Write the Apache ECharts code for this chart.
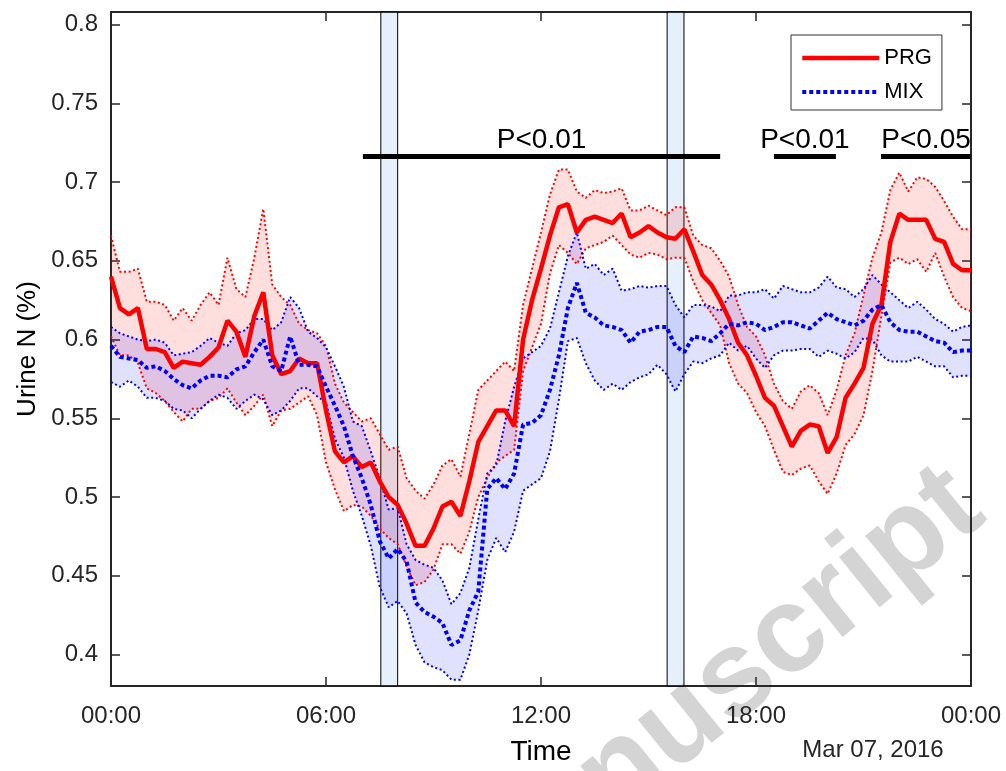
<!DOCTYPE html>
<html>
<head>
<meta charset="utf-8">
<script src="https://cdn.jsdelivr.net/npm/echarts@6/dist/echarts.min.js"></script>
<style>
html,body{margin:0;padding:0;background:#fff}
#chart{width:1006px;height:771px}
</style>
</head>
<body>
<div id="chart"></div>
<script>
// sampled every 15 min, 00:00 -> 24:00 (hours)
var timeStep = 0.25;

var prgMean = [0.640,0.620,0.616,0.620,0.594,0.594,0.592,0.582,0.586,0.585,0.584,0.589,0.595,0.612,0.605,0.589,0.615,0.630,0.590,0.578,0.580,0.588,0.585,0.585,
  0.555,0.529,0.522,0.526,0.519,0.522,0.510,0.500,0.495,0.483,0.469,0.469,0.480,0.494,0.497,0.488,0.510,0.535,0.545,0.555,0.555,0.545,0.600,0.625,
  0.645,0.666,0.684,0.686,0.668,0.676,0.678,0.676,0.674,0.680,0.665,0.668,0.672,0.668,0.665,0.664,0.670,0.656,0.641,0.635,0.625,0.613,0.598,0.590,
  0.577,0.563,0.558,0.545,0.532,0.542,0.546,0.545,0.528,0.538,0.563,0.572,0.582,0.610,0.622,0.662,0.680,0.676,0.676,0.676,0.664,0.662,0.648,0.644,
  0.644];
var prgUpper = [0.666,0.643,0.643,0.645,0.624,0.624,0.622,0.612,0.620,0.612,0.622,0.630,0.622,0.652,0.632,0.627,0.652,0.683,0.635,0.627,0.622,0.610,0.606,0.604,
  0.596,0.572,0.560,0.554,0.548,0.550,0.540,0.530,0.532,0.512,0.504,0.499,0.508,0.520,0.524,0.513,0.540,0.568,0.574,0.580,0.586,0.580,0.622,0.645,
  0.668,0.692,0.708,0.708,0.694,0.690,0.695,0.693,0.694,0.696,0.682,0.682,0.685,0.682,0.679,0.684,0.684,0.666,0.660,0.658,0.650,0.640,0.622,0.608,
  0.602,0.590,0.572,0.561,0.556,0.567,0.571,0.566,0.552,0.568,0.590,0.604,0.628,0.652,0.668,0.695,0.706,0.694,0.703,0.702,0.697,0.688,0.678,0.670,
  0.670];
var prgLower = [0.602,0.590,0.590,0.585,0.569,0.566,0.561,0.554,0.548,0.556,0.556,0.561,0.563,0.569,0.560,0.552,0.558,0.565,0.545,0.555,0.556,0.560,0.564,0.552,
  0.522,0.505,0.491,0.495,0.494,0.488,0.480,0.474,0.470,0.456,0.444,0.446,0.454,0.470,0.470,0.464,0.478,0.500,0.512,0.522,0.526,0.530,0.580,0.595,
  0.610,0.642,0.660,0.655,0.648,0.658,0.660,0.662,0.666,0.660,0.654,0.652,0.655,0.654,0.651,0.652,0.652,0.637,0.625,0.617,0.609,0.585,0.572,0.566,
  0.554,0.545,0.530,0.516,0.514,0.518,0.520,0.510,0.502,0.515,0.533,0.540,0.552,0.580,0.615,0.649,0.652,0.648,0.651,0.643,0.655,0.640,0.627,0.620,
  0.618];

var mixMean = [0.596,0.589,0.588,0.587,0.582,0.583,0.580,0.575,0.571,0.569,0.574,0.577,0.577,0.576,0.581,0.583,0.592,0.600,0.583,0.580,0.602,0.584,0.584,0.583,
  0.570,0.558,0.545,0.526,0.512,0.495,0.472,0.461,0.467,0.459,0.433,0.427,0.424,0.420,0.406,0.409,0.428,0.440,0.505,0.512,0.505,0.515,0.546,0.547,
  0.552,0.568,0.590,0.620,0.636,0.617,0.614,0.609,0.608,0.606,0.598,0.605,0.606,0.608,0.608,0.596,0.592,0.602,0.601,0.599,0.604,0.610,0.609,0.611,
  0.610,0.606,0.608,0.611,0.611,0.609,0.607,0.612,0.617,0.613,0.611,0.609,0.612,0.619,0.622,0.611,0.606,0.605,0.605,0.602,0.599,0.598,0.592,0.593,
  0.593];
var mixUpper = [0.608,0.604,0.602,0.600,0.599,0.600,0.598,0.590,0.591,0.592,0.596,0.601,0.598,0.596,0.604,0.606,0.613,0.613,0.606,0.611,0.627,0.620,0.605,0.601,
  0.595,0.583,0.570,0.548,0.545,0.529,0.512,0.492,0.493,0.470,0.460,0.457,0.455,0.447,0.432,0.439,0.455,0.486,0.515,0.520,0.548,0.570,0.588,0.592,
  0.596,0.607,0.630,0.653,0.668,0.645,0.648,0.641,0.645,0.631,0.632,0.634,0.633,0.634,0.634,0.622,0.614,0.622,0.622,0.621,0.618,0.628,0.628,0.630,
  0.630,0.632,0.626,0.634,0.632,0.630,0.630,0.633,0.640,0.633,0.632,0.627,0.632,0.641,0.635,0.630,0.625,0.620,0.624,0.619,0.613,0.610,0.605,0.608,
  0.609];
var mixLower = [0.573,0.570,0.574,0.570,0.563,0.563,0.561,0.556,0.555,0.550,0.556,0.561,0.565,0.563,0.556,0.561,0.565,0.562,0.552,0.555,0.561,0.569,0.569,0.564,
  0.560,0.537,0.525,0.504,0.488,0.469,0.443,0.430,0.434,0.426,0.406,0.395,0.392,0.390,0.384,0.384,0.400,0.428,0.460,0.474,0.465,0.478,0.504,0.508,
  0.512,0.529,0.562,0.599,0.601,0.585,0.574,0.568,0.572,0.568,0.573,0.576,0.578,0.584,0.578,0.567,0.578,0.586,0.585,0.588,0.590,0.598,0.593,0.596,
  0.588,0.582,0.590,0.593,0.593,0.594,0.594,0.589,0.593,0.591,0.588,0.592,0.601,0.600,0.590,0.586,0.586,0.586,0.589,0.586,0.583,0.583,0.576,0.577,
  0.577];

var yTicks = [0.4,0.45,0.5,0.55,0.6,0.65,0.7,0.75,0.8];
// shaded sampling windows (hours)
var windows = [[7.53,8.0],[15.52,15.99]];
// significance bars: [start h, end h, text]
var sigBars = [[7.03,17.0,'P<0.01'],[18.5,20.23,'P<0.01'],[21.49,24,'P<0.05']];
var sigLevel = 0.7165;

function pairs(arr){
  var out = [];
  for (var i=0;i<arr.length;i++) out.push([i*timeStep, arr[i]]);
  return out;
}
function hhmm(v){
  var h = v % 24;
  return (h<10?'0':'') + h + ':00';
}
// filled region between two bounds, drawn through the axes' scales
function band(up, lo, color){
  return {
    type:'custom', silent:true, z:1, clip:true,
    data:[[0, lo[0]]],
    renderItem:function(params, api){
      var pts = [];
      for (var i=0;i<up.length;i++) pts.push(api.coord([i*timeStep, up[i]]));
      for (var j=lo.length-1;j>=0;j--) pts.push(api.coord([j*timeStep, lo[j]]));
      return {type:'polygon', shape:{points:pts}, style:{fill:color}};
    }
  };
}

var ink = '#262626';
var font = 'Liberation Sans, Arial, sans-serif';

var myChart = echarts.init(document.getElementById('chart'));

var thinW = 2, thinT = [2,2.6];
var prgLine = {color:'#ff0000', width:4.5, type:'solid'};
var mixLine = {color:'#0000ff', width:4, type:[4,3]};

var option = {
  animation: false,
  backgroundColor: '#fff',
  textStyle: {fontFamily: font},
  grid: {left:111, right:35, top:12, bottom:84, containLabel:false},
  legend: {
    data: [{name:'PRG', lineStyle:prgLine}, {name:'MIX', lineStyle:mixLine}],
    orient: 'vertical',
    left: 791, top: 35,
    padding: [12,10,7,9],
    itemWidth: 77, itemHeight: 14, itemGap: 12,
    borderColor: '#333', borderWidth: 1,
    backgroundColor: '#fff',
    itemStyle: {opacity: 0},
    textStyle: {fontSize:22, color:'#000', fontFamily:font},
    selectedMode: false
  },
  xAxis: [{
    type:'value', min:0, max:24, interval:6,
    name:'Time', nameLocation:'middle', nameGap:52,
    nameTextStyle:{fontSize:28, color:'#000', fontFamily:font},
    axisLine:{show:true, onZero:false, lineStyle:{color:ink, width:2}},
    axisTick:{inside:true, length:9, lineStyle:{color:ink, width:1.5}},
    axisLabel:{fontSize:24, color:ink, margin:18, formatter:hhmm, fontFamily:font},
    splitLine:{show:false}
  },{
    type:'value', min:0, max:24, interval:6, position:'top',
    axisLine:{show:true, onZero:false, lineStyle:{color:ink, width:2}},
    axisTick:{inside:true, length:9, lineStyle:{color:ink, width:1.5}},
    axisLabel:{show:false}, splitLine:{show:false}
  }],
  yAxis: [{
    type:'value', min:0.38, max:0.808,
    name:'Urine N (%)', nameLocation:'middle', nameGap:70,
    nameTextStyle:{fontSize:26, color:'#000', fontFamily:font},
    axisLine:{show:true, onZero:false, lineStyle:{color:ink, width:2}},
    axisTick:{inside:true, length:9, lineStyle:{color:ink, width:1.5}, customValues:yTicks},
    axisLabel:{fontSize:24, color:ink, margin:13, customValues:yTicks, fontFamily:font,
      formatter:function(v){ return String(+v.toFixed(2)); }},
    splitLine:{show:false}
  },{
    type:'value', min:0.38, max:0.808, position:'right',
    axisLine:{show:true, onZero:false, lineStyle:{color:ink, width:2}},
    axisTick:{inside:true, length:9, lineStyle:{color:ink, width:1.5}, customValues:yTicks},
    axisLabel:{show:false, customValues:yTicks}, splitLine:{show:false}
  }],
  graphic: [
    {type:'text', z:-5, x:1006, y:540, rotation:0.68,
      style:{text:'Accepted Manuscript', font:'bold 122px ' + font, fill:'#d4d4d4', align:'right', verticalAlign:'bottom'}},
    {type:'text', x:873, y:750,
      style:{text:'Mar 07, 2016', font:'24px ' + font, fill:ink, align:'center', verticalAlign:'middle'}}
  ],
  series: [
    band(prgUpper, prgLower, 'rgba(255,0,0,0.13)'),
    band(mixUpper, mixLower, 'rgba(0,0,255,0.12)'),
    {name:'prgUp', type:'line', data:pairs(prgUpper), symbol:'none', lineStyle:{color:'#ff0000', width:thinW, type:thinT}, z:2},
    {name:'prgLo', type:'line', data:pairs(prgLower), symbol:'none', lineStyle:{color:'#ff0000', width:thinW, type:thinT}, z:2},
    {name:'mixUp', type:'line', data:pairs(mixUpper), symbol:'none', lineStyle:{color:'#0000ff', width:thinW, type:thinT}, z:2},
    {name:'mixLo', type:'line', data:pairs(mixLower), symbol:'none', lineStyle:{color:'#0000ff', width:thinW, type:thinT}, z:2},
    {name:'PRG', type:'line', data:pairs(prgMean), symbol:'none', itemStyle:{color:'#ff0000'}, lineStyle:prgLine, z:3},
    {name:'MIX', type:'line', data:pairs(mixMean), symbol:'none', itemStyle:{color:'#0000ff'}, lineStyle:mixLine, z:3},
    {name:'marks', type:'line', data:[[0,0.5]], symbol:'none', lineStyle:{opacity:0}, silent:true, z:5,
      markArea:{silent:true,
        itemStyle:{color:'rgba(192,217,245,0.4)', borderColor:'#000', borderWidth:1},
        data: windows.map(function(w){ return [{xAxis:w[0]},{xAxis:w[1]}]; })
      },
      markLine:{silent:true, symbol:['none','none'],
        lineStyle:{color:'#000', width:5, type:'solid'},
        label:{show:true, position:'middle', fontSize:28, color:'#000', distance:2, fontFamily:font},
        data: sigBars.map(function(b){
          return [{coord:[b[0],sigLevel], label:{formatter:b[2]}},{coord:[b[1],sigLevel]}];
        })
      }
    }
  ]
};

myChart.setOption(option);
</script>
</body>
</html>
